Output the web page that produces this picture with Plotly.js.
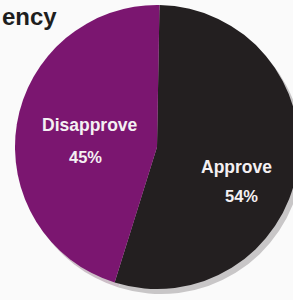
<!DOCTYPE html>
<html>
<head>
<meta charset="utf-8">
<script src="https://cdn.plot.ly/plotly-3.0.1.min.js"></script>
<style>
html,body{margin:0;padding:0;overflow:hidden;background:#fafafa;width:293px;height:300px;}
#chart{width:330px;height:300px;}
</style>
</head>
<body>
<div id="chart"></div>
<script>
var categories = ["Approve", "Disapprove"];
var values = [54, 45];
var sliceColors = ["#231f20", "#7b1670"];
var titleText = "ency";

var W = 330, H = 300;
function dx(a, b){ return [a / W, b / W]; }
function dy(top, bottom){ return [(H - bottom) / H, (H - top) / H]; }

var shadow = {
  type: "pie", values: values, labels: categories, sort: false,
  direction: "clockwise", rotation: 1, textinfo: "none", hoverinfo: "skip",
  marker: {colors: ["#c8c6c7", "#cdbfc8"], line: {width: 0}},
  domain: {x: dx(19, 303), y: dy(10, 294)}, showlegend: false
};
var pie = {
  type: "pie", values: values, labels: categories, sort: false,
  direction: "clockwise", rotation: 1, textinfo: "none",
  marker: {colors: sliceColors, line: {width: 0}},
  domain: {x: dx(15, 299), y: dy(5, 289)}, showlegend: false
};

var labelFont = {family: "Liberation Sans, Arial, sans-serif", size: 17.5, color: "#f4f0f3", weight: "bold"};
var pctFont = {family: "Liberation Sans, Arial, sans-serif", size: 16.5, color: "#f4f0f3", weight: "bold"};
function px(x){ return x / W; }
function py(y){ return 1 - y / H; }

var annotations = [
  {text: titleText, x: px(0), y: py(17), xref: "paper", yref: "paper", xanchor: "left", yanchor: "middle",
   showarrow: false, font: {family: "Liberation Sans, Arial, sans-serif", size: 24, color: "#1e1e1e", weight: "bold"}},
  {text: categories[1], x: px(90), y: py(125), xref: "paper", yref: "paper", xanchor: "center", yanchor: "middle", showarrow: false, font: labelFont},
  {text: values[1] + "%", x: px(85), y: py(157), xref: "paper", yref: "paper", xanchor: "center", yanchor: "middle", showarrow: false, font: pctFont},
  {text: categories[0], x: px(236), y: py(167), xref: "paper", yref: "paper", xanchor: "center", yanchor: "middle", showarrow: false, font: labelFont},
  {text: values[0] + "%", x: px(242), y: py(196), xref: "paper", yref: "paper", xanchor: "center", yanchor: "middle", showarrow: false, font: pctFont}
];

Plotly.newPlot("chart", [shadow, pie], {
  width: W, height: H,
  margin: {l: 0, r: 0, t: 0, b: 0},
  paper_bgcolor: "#fafafa", plot_bgcolor: "#fafafa",
  annotations: annotations, showlegend: false
}, {displayModeBar: false, staticPlot: true});
</script>
</body>
</html>
